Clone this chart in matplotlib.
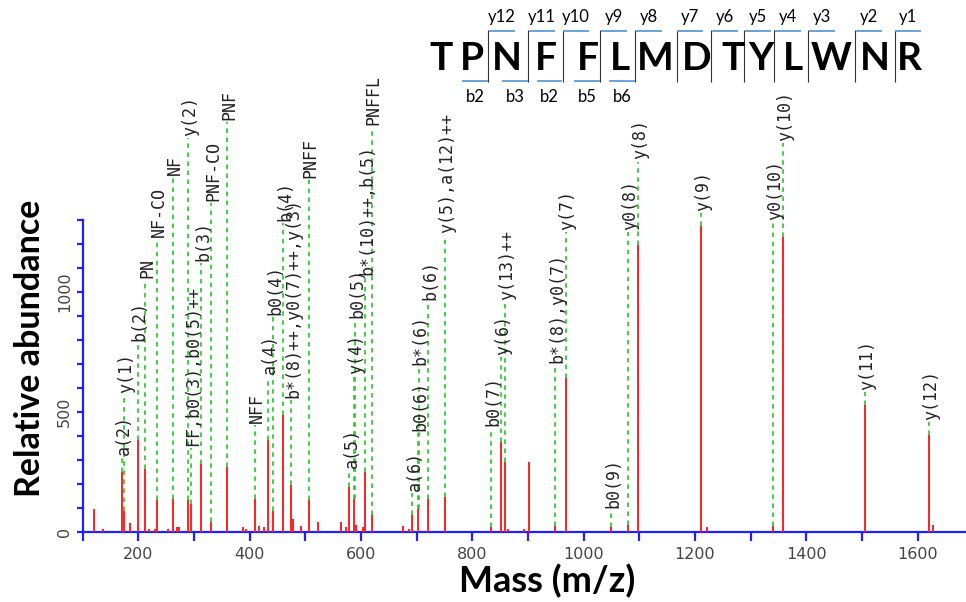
import matplotlib.pyplot as plt
from matplotlib.ticker import FuncFormatter, MultipleLocator

W, H, DPI = 966, 602, 100

# fragment spectrum: m/z and relative abundance of every peak
PEAK_MZ = [
    121.0, 137.2, 171.1, 174.6, 185.1, 199.1, 212.1, 218.6, 229.5, 234.1,
    252.8, 262.1, 268.9, 272.5, 289.2, 295.1, 313.2, 331.2, 359.2, 387.5,
    393.5, 409.2, 416.8, 425.8, 432.2, 442.2, 460.2, 475.2, 478.5, 491.7,
    506.2, 522.8, 563.5, 572.5, 579.3, 588.3, 591.0, 603.6, 607.3, 619.3,
    676.1, 686.3, 692.4, 702.4, 720.4, 751.4, 833.4, 852.4, 858.9, 864.1,
    892.8, 901.8, 949.4, 967.5, 1049.5, 1080.5, 1098.5, 1211.6, 1221.0,
    1340.6, 1358.7, 1505.7, 1619.8, 1628.1,
]
PEAK_INT = [
    97, 14, 250, 90, 37, 382, 264, 14, 14, 132,
    14, 139, 20, 20, 132, 118, 285, 42, 271, 20,
    15, 139, 25, 20, 382, 90, 486, 195, 55, 26,
    132, 42, 42, 20, 188, 139, 30, 20, 250, 70,
    27, 14, 70, 97, 139, 146, 20, 375, 292, 14,
    14, 292, 25, 639, 20, 30, 1195, 1271, 20,
    26, 1229, 528, 403, 30,
]

# assigned fragment ions: label, m/z, height at which the label starts
ION_LABELS = [
    'a(2)', 'y(1)', 'b(2)', 'PN', 'NF-CO', 'NF', 'y(2)', 'FF,b0(3),b0(5)++',
    'b(3)', 'PNF-CO', 'PNF', 'NFF', 'a(4)', 'b0(4)', 'b(4)',
    'b*(8)++,y0(7)++,y(3)', 'PNFF', 'a(5)', 'y(4)', 'b0(5)',
    'b*(10)++,b(5)', 'PNFFL', 'a(6)', 'b0(6)', 'b*(6)', 'b(6)',
    'y(5),a(12)++', 'b0(7)', 'y(6)', 'y(13)++', 'b*(8),y0(7)', 'y(7)',
    'b0(9)', 'y0(8)', 'y(8)', 'y(9)', 'y0(10)', 'y(10)', 'y(11)', 'y(12)',
]
ION_MZ = [
    171.1, 175.1, 199.1, 212.1, 234.1, 262.1, 289.2, 295.1,
    313.2, 331.2, 359.2, 409.2, 432.2, 442.2, 460.2,
    475.2, 506.2, 579.3, 588.3, 589.3,
    607.3, 619.3, 692.4, 702.4, 703.4, 720.4,
    751.4, 833.4, 852.4, 858.9, 949.4, 967.5,
    1049.5, 1080.5, 1098.5, 1211.6, 1340.6, 1358.7, 1505.7, 1619.8,
]
ION_TEXT_Y = [
    314, 570, 785, 1049, 1217, 1478, 1638, 349,
    1118, 1368, 1707, 446, 647, 896, 1284,
    550, 1464, 259, 647, 882,
    1060, 1686, 162, 411, 688, 958,
    1236, 432, 730, 958, 695, 1249,
    92, 1249, 1541, 1326, 1291, 1617, 584, 459,
]

# peptide sequence with the observed cleavage sites
RESIDUES = list('TPNFFLMDTYLWNR')
Y_MARKS = ['y12', 'y11', 'y10', 'y9', 'y8', 'y7', 'y6', 'y5', 'y4', 'y3', 'y2', 'y1']
B_MARKS = ['b2', 'b3', 'b2', 'b5', 'b6']

# header layout, in figure pixels
RES_X = [440.7, 471.7, 507.3, 546.0, 588.3, 620.0, 655.0, 697.0, 733.0,
         761.3, 793.0, 831.3, 874.7, 909.7]
CUT_X = [488.3, 528.3, 562.7, 600.0, 635.0, 676.7, 711.3, 744.0, 774.0,
         808.0, 855.3, 894.7]


def nearest_height(mz):
    best = min(range(len(PEAK_MZ)), key=lambda i: abs(PEAK_MZ[i] - mz))
    return PEAK_INT[best] if abs(PEAK_MZ[best] - mz) < 2.5 else 0


def main():
    fig = plt.figure(figsize=(W / DPI, H / DPI), dpi=DPI)
    ax = fig.add_axes([82.6 / W, 1 - 532.2 / H, 1 - 82.6 / W, (532.2 - 219.5) / H])

    blue = '#2020ff'
    green = '#33cc33'

    # label guide lines
    bases = [nearest_height(mz) for mz in ION_MZ]
    ax.vlines(ION_MZ, bases, ION_TEXT_Y, colors=green, linewidth=1.3,
              linestyles=(0, (2.5, 2.5)), clip_on=False, zorder=2)
    ax.vlines(PEAK_MZ, 0, PEAK_INT, colors='#ff2020', linewidth=1.4, zorder=3)

    for label, mz, ty in zip(ION_LABELS, ION_MZ, ION_TEXT_Y):
        ax.annotate(label, xy=(mz, ty), xytext=(1.5, 1.5), textcoords='offset points',
                    rotation=90, ha='center', va='bottom', fontsize=12,
                    family='DejaVu Sans Mono', color='#222222', annotation_clip=False)

    ax.set_xlim(100, 1686.8)
    ax.set_ylim(0, 1300)
    ax.set_facecolor('none')
    for side in ('top', 'right'):
        ax.spines[side].set_visible(False)
    for side in ('left', 'bottom'):
        ax.spines[side].set_color(blue)
        ax.spines[side].set_linewidth(1.6)

    ax.xaxis.set_major_locator(MultipleLocator(100))
    ax.yaxis.set_major_locator(MultipleLocator(100))
    ax.xaxis.set_major_formatter(FuncFormatter(lambda v, _: f'{v:.0f}' if v % 200 == 0 else ''))
    ax.yaxis.set_major_formatter(FuncFormatter(lambda v, _: f'{v:.0f}' if v % 500 == 0 else ''))
    ax.tick_params(axis='x', length=6.5, width=1.6, color=blue, pad=4,
                   labelsize=11.5, labelcolor='#444444')
    ax.tick_params(axis='y', length=4, width=1.6, color=blue, pad=3.5,
                   labelsize=11.5, labelcolor='#444444', labelrotation=90)
    for lbl in ax.get_yticklabels():
        lbl.set_verticalalignment('center')

    fig.text(547 / W, 1 - 592 / H, 'Mass (m/z)', ha='center', va='baseline',
             fontsize=26, fontweight='bold', family='Lato')
    fig.text(30 / W, 1 - 348 / H, 'Relative abundance', ha='center', va='center',
             rotation=90, fontsize=24.5, fontweight='bold', family='Lato')

    # sequence header drawn in pixel space
    hx = fig.add_axes([0, 0, 1, 1], zorder=5)
    hx.set_xlim(0, W)
    hx.set_ylim(H, 0)
    hx.axis('off')
    hx.patch.set_visible(False)

    for res, x in zip(RESIDUES, RES_X):
        hx.text(x, 58, res, ha='center', va='center', fontsize=28,
                fontweight='bold', family='Lato')
    hx.vlines(CUT_X, 30, 82, colors='#333333', linewidth=0.8)

    for mark, x in zip(Y_MARKS, CUT_X):
        hx.plot([x + 1.5, x + 25.5], [30.7, 30.7], color='#5b9bd5', linewidth=1.3)
        hx.text(x + 13.5, 17, mark, ha='center', va='center', fontsize=12, family='Lato')
    for mark, x in zip(B_MARKS, CUT_X):
        hx.plot([x - 25, x - 1.5], [81, 81], color='#5b9bd5', linewidth=1.3)
        hx.text(x - 13, 97, mark, ha='center', va='center', fontsize=12, family='Lato')

    fig.savefig('out.png', dpi=DPI)


if __name__ == '__main__':
    main()
